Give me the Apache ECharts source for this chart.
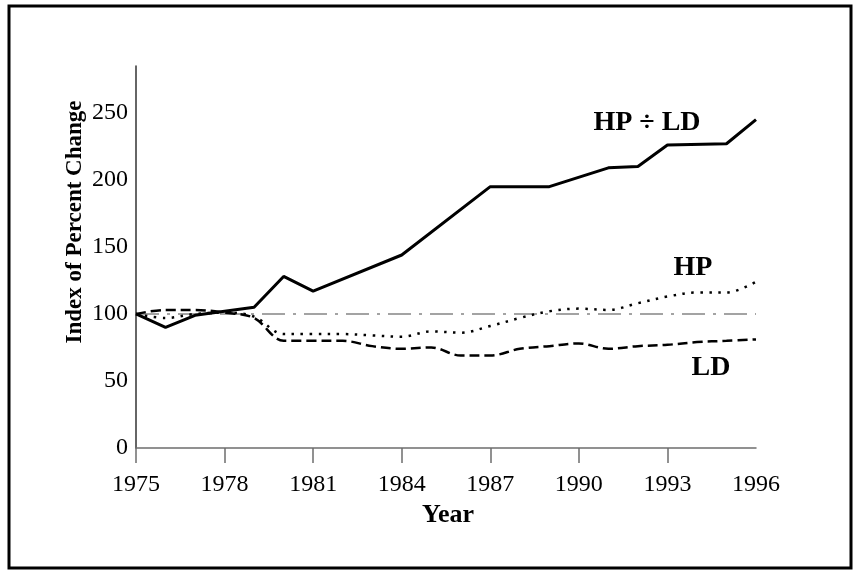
<!DOCTYPE html>
<html>
<head>
<meta charset="utf-8">
<title>Index of Percent Change</title>
<script src="https://cdn.jsdelivr.net/npm/echarts@6/dist/echarts.min.js"></script>
<style>
  html, body { margin: 0; padding: 0; background: #fff; }
  #line-chart { width: 860px; height: 575px; }
</style>
</head>
<body>
<div id="line-chart"></div>
<script>
const years = [1975, 1976, 1977, 1978, 1979, 1980, 1981, 1982, 1983, 1984, 1985,
  1986, 1987, 1988, 1989, 1990, 1991, 1992, 1993, 1994, 1995, 1996];
const hp = [100, 97, 100, 101, 98, 85, 85, 85, 84, 83, 87,
  86, 91, 97, 102, 104, 103, 108, 113, 116, 116, 124];
const ld = [100, 103, 103, 101, 97, 80, 80, 80, 76, 74, 75,
  69, 69, 74, 76, 78, 74, 76, 77, 79, 80, 81];
const ratioYears = [1975, 1976, 1977, 1978, 1979, 1980, 1981, 1984, 1987, 1989, 1991, 1992, 1993, 1995, 1996];
const ratio = [100, 90, 99, 102, 105, 128, 117, 144, 195, 195, 209, 210, 226, 227, 245];
const yTicks = [0, 50, 100, 150, 200, 250];
const baseYear = 1975;

const serif = "'Liberation Serif', 'Times New Roman', serif";

// x axis runs on years since 1975 so ticks can start at 0
const pairs = (xs, ys) => xs.map((x, i) => [x - baseYear, ys[i]]);

const option = {
  animation: false,
  grid: { left: 136, right: 104, top: 66, bottom: 127 },
  xAxis: {
    type: "value",
    min: 0,
    max: years[years.length - 1] - baseYear,
    interval: 3,
    splitLine: { show: false },
    axisLine: { lineStyle: { color: "#6e6e6e", width: 1.5 } },
    axisTick: {
      show: true,
      inside: false,
      length: 15,
      customValues: [0, 3, 6, 9, 12, 15, 18],
      lineStyle: { color: "#6e6e6e", width: 1.5 },
    },
    axisLabel: {
      margin: 25,
      color: "#000",
      fontFamily: serif,
      fontSize: 24,
      formatter: (v) => String(baseYear + v),
    },
  },
  yAxis: {
    type: "value",
    min: 0,
    max: 285,
    interval: 50,
    splitLine: { show: false },
    axisLine: { show: true, lineStyle: { color: "#333", width: 1.5 } },
    axisTick: { show: false },
    axisLabel: {
      margin: 8,
      color: "#000",
      fontFamily: serif,
      fontSize: 24,
      formatter: (v) => (yTicks.includes(v) ? String(v) : ""),
    },
  },
  graphic: [
    {
      type: "rect",
      shape: { x: 9, y: 6, width: 842, height: 562 },
      style: { fill: null, stroke: "#000", lineWidth: 3 },
      silent: true,
    },
    {
      type: "text",
      x: 75, y: 222, rotation: Math.PI / 2,
      style: {
        text: "Index of Percent Change",
        font: "bold 23px " + serif,
        fill: "#000",
        align: "center",
        verticalAlign: "middle",
      },
    },
    {
      type: "text",
      x: 448, y: 515,
      style: { text: "Year", font: "bold 26px " + serif, fill: "#000", align: "center", verticalAlign: "middle" },
    },
    {
      type: "text",
      x: 647, y: 123,
      style: { text: "HP ÷ LD", font: "bold 28px " + serif, fill: "#000", align: "center", verticalAlign: "middle" },
    },
    {
      type: "text",
      x: 693, y: 268,
      style: { text: "HP", font: "bold 28px " + serif, fill: "#000", align: "center", verticalAlign: "middle" },
    },
    {
      type: "text",
      x: 711, y: 368,
      style: { text: "LD", font: "bold 28px " + serif, fill: "#000", align: "center", verticalAlign: "middle" },
    },
  ],
  series: [
    {
      name: "base",
      type: "line",
      data: [[0, 100], [years[years.length - 1] - baseYear, 100]],
      symbol: "none",
      silent: true,
      lineStyle: { color: "#858585", width: 1.5, type: [23, 8, 3, 8] },
      z: 1,
    },
    {
      name: "LD",
      type: "line",
      data: pairs(years, ld),
      symbol: "none",
      smooth: 0.35,
      lineStyle: { color: "#000", width: 2.5, type: [10, 5] },
      z: 2,
    },
    {
      name: "HP",
      type: "line",
      data: pairs(years, hp),
      symbol: "none",
      smooth: 0.35,
      lineStyle: { color: "#000", width: 2.5, type: [2.5, 6.5] },
      z: 3,
    },
    {
      name: "HP ÷ LD",
      type: "line",
      data: pairs(ratioYears, ratio),
      symbol: "none",
      lineStyle: { color: "#000", width: 3 },
      z: 4,
    },
  ],
};

const myChart = echarts.init(document.getElementById("line-chart"));
myChart.setOption(option);

window.addEventListener("resize", () => {
  myChart.resize();
});
</script>
</body>
</html>
